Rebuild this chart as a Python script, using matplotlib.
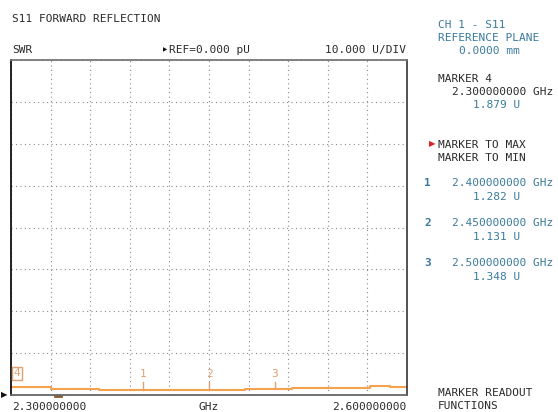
import numpy as np
import matplotlib
matplotlib.use("Agg")
import matplotlib.pyplot as plt

# stepped SWR trace (frequency breakpoints in GHz, SWR in U)
freq = [2.300, 2.330, 2.367, 2.402, 2.477, 2.513, 2.542, 2.572, 2.587, 2.600]
swr = [1.879, 1.50, 1.282, 1.131, 1.348, 1.60, 1.75, 2.08, 1.80, 1.80]

marker_ids = ["1", "2", "3"]
marker_freq = [2.40, 2.45, 2.50]
marker_val = [1.282, 1.131, 1.348]

W, H = 558, 412
fig = plt.figure(figsize=(W / 100, H / 100), dpi=100)
fig.patch.set_facecolor("white")

blue = "#3a7a9c"
trace_col = "#f5a24e"
mark_col = "#e0a070"
mono = "DejaVu Sans Mono"
fs = 8


def px(x, y):
    return x / W, 1 - y / H


def txt(x, y, s, color="#2a2a2a", ha="left", **kw):
    fig.text(*px(x, y), s, color=color, ha=ha, va="baseline",
             family=mono, fontsize=fs, **kw)


ax = fig.add_axes([11 / W, (H - 395) / H, 396 / W, 335 / H])
ax.set_xlim(2.3, 2.6)
ax.set_ylim(0, 80)
ax.set_xticks(np.linspace(2.3, 2.6, 11))
ax.set_yticks(np.arange(0, 81, 10))
ax.grid(True, color="#8a8a8a", linestyle=(0, (1, 3)), linewidth=0.8)
ax.tick_params(length=0, labelbottom=False, labelleft=False)
for side, c in [("left", "#111111"), ("top", "#777777"),
                ("right", "#444444"), ("bottom", "#666666")]:
    ax.spines[side].set_color(c)
    ax.spines[side].set_linewidth(1.3)

ax.step(freq, swr, where="post", color=trace_col, lw=1.5, clip_on=False)

# marker ticks and numbers
for mid, mf, mv in zip(marker_ids, marker_freq, marker_val):
    ax.plot([mf, mf], [mv, 3.2], color=mark_col, lw=1.0)
    ax.text(mf, 3.8, mid, color=mark_col, ha="center", va="bottom",
            family=mono, fontsize=fs)
# marker 4 (boxed, at start frequency)
ax.text(2.3045, 4.0, "4", color=mark_col, ha="center", va="bottom",
        family=mono, fontsize=fs,
        bbox=dict(boxstyle="square,pad=0.15", fc="white", ec=mark_col, lw=1))

# small marks outside plot
ax.plot([2.3335, 2.3375], [-0.35, -0.35], color="#8a5a30", lw=2,
        clip_on=False)
fig.text(*px(1, 395), "\u25b6", color="#111111", fontsize=6,
         va="center", ha="left", family="DejaVu Sans")

# header texts
txt(12, 22, "S11 FORWARD REFLECTION")
txt(12, 53, "SWR")
fig.text(*px(163, 50), "\u25b6", color="#111111", fontsize=4,
         va="center", family="DejaVu Sans")
txt(169, 53, "REF=0.000 pU")
txt(406, 53, "10.000 U/DIV", ha="right")

# bottom axis labels
txt(12, 410, "2.300000000")
txt(209, 410, "GHz", ha="center")
txt(406, 410, "2.600000000", ha="right")

# right panel
txt(438, 28, "CH 1 - S11", color=blue)
txt(438, 41, "REFERENCE PLANE", color=blue)
txt(459, 54, "0.0000 mm", color=blue)
txt(438, 82, "MARKER 4")
txt(452, 95, "2.300000000 GHz")
txt(473, 108, "%.3f U" % swr[0], color=blue)

fig.text(*px(429, 144), "\u25b6", color="#e02020", fontsize=6,
         va="center", family="DejaVu Sans")
txt(438, 148, "MARKER TO MAX")
txt(438, 161, "MARKER TO MIN")

rows_y = [186, 226, 266]
for mid, mf, mv, yy in zip(marker_ids, marker_freq, marker_val, rows_y):
    txt(424, yy, mid, color=blue, weight="bold")
    txt(452, yy, "%.9f GHz" % mf, color=blue)
    txt(473, yy + 14, "%.3f U" % mv, color=blue)

txt(438, 396, "MARKER READOUT")
txt(438, 409, "FUNCTIONS")

fig.savefig("out.png", dpi=100)
